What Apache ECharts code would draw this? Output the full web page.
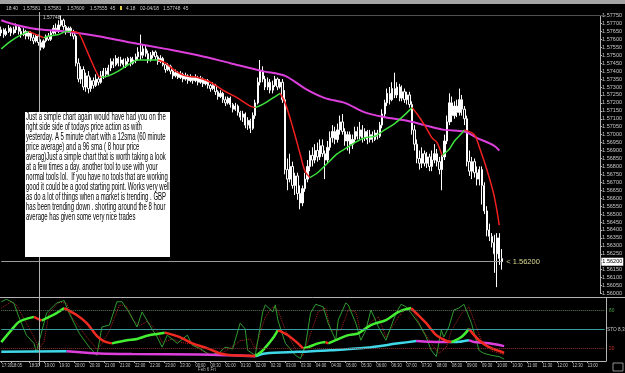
<!DOCTYPE html>
<html><head><meta charset="utf-8">
<script src="https://cdn.jsdelivr.net/npm/echarts@6/dist/echarts.min.js"></script>
<style>html,body{margin:0;padding:0;background:#000;overflow:hidden}#c{width:625px;height:373px}</style>
</head><body><div id="c"></div>
<script>
const SLOTS = 241;
const timeTicks = [[0,'17:30'],[4,'18:05'],[11,'18:30'],[17,'19:00'],[23,'19:30'],[29,'20:00'],[35,'20:30'],[41,'21:00'],[47,'21:30'],[53,'22:00'],[59,'22:30'],[65,'23:00'],[71,'23:30'],[77,'00:00'],[83,'00:30'],[89,'01:00'],[95,'01:30'],[101,'02:00'],[107,'02:30'],[113,'03:00'],[119,'03:30'],[125,'04:00'],[131,'04:30'],[137,'05:00'],[143,'05:30'],[149,'06:00'],[155,'06:30'],[161,'07:00'],[167,'07:30'],[173,'08:00'],[179,'08:30'],[185,'09:00'],[191,'09:30'],[197,'10:00'],[203,'10:30'],[209,'11:00'],[215,'11:30'],[221,'12:00'],[227,'12:30'],[233,'13:00']];

// [open, close, low, high]
const candles = [
[1.5764,1.5766,1.5762,1.5768],[1.5766,1.5763,1.5761,1.5767],[1.5763,1.5765,1.5762,1.5767],[1.5765,1.5767,1.5764,1.5769],
[1.5767,1.5764,1.5762,1.5768],[1.5764,1.5766,1.5763,1.5768],[1.5766,1.5768,1.5764,1.5770],[1.5768,1.5765,1.5763,1.5769],
[1.5765,1.5763,1.5761,1.5767],[1.5763,1.5765,1.5762,1.5767],[1.5765,1.5762,1.5760,1.5766],[1.5762,1.5764,1.5760,1.5765],
[1.5764,1.5761,1.5759,1.5765],[1.5761,1.5759,1.5757,1.5763],[1.5759,1.5762,1.5758,1.5763],[1.5762,1.5758,1.5756,1.5763],
[1.5758,1.5755,1.5753,1.5760],[1.5755,1.5759,1.5754,1.5760],[1.5759,1.5762,1.5758,1.5763],[1.5762,1.5760,1.5759,1.5764],
[1.5760,1.5764,1.5759,1.5766],[1.5764,1.5767,1.5763,1.5769],[1.5767,1.5765,1.5763,1.5770],[1.5765,1.5769,1.5764,1.5772],
[1.5769,1.5772,1.5768,1.5775],[1.5772,1.5768,1.5766,1.5773],[1.5768,1.5765,1.5763,1.5769],[1.5765,1.5767,1.5764,1.5768],
[1.5767,1.5764,1.5762,1.5768],[1.5764,1.5762,1.5760,1.5766],[1.5762,1.5745,1.5743,1.5763],[1.5745,1.5735,1.5733,1.5748],
[1.5735,1.5741,1.5732,1.5743],[1.5741,1.5730,1.5728,1.5743],[1.5730,1.5737,1.5727,1.5739],[1.5737,1.5729,1.5726,1.5740],
[1.5729,1.5734,1.5727,1.5736],[1.5734,1.5731,1.5729,1.5736],[1.5731,1.5735,1.5730,1.5738],[1.5735,1.5733,1.5731,1.5737],
[1.5733,1.5737,1.5732,1.5740],[1.5737,1.5740,1.5735,1.5742],[1.5740,1.5738,1.5736,1.5742],[1.5738,1.5742,1.5737,1.5744],
[1.5742,1.5746,1.5740,1.5748],[1.5746,1.5744,1.5742,1.5748],[1.5744,1.5748,1.5743,1.5750],[1.5748,1.5745,1.5743,1.5749],
[1.5745,1.5747,1.5743,1.5749],[1.5747,1.5744,1.5742,1.5748],[1.5744,1.5746,1.5742,1.5748],[1.5746,1.5748,1.5744,1.5749],
[1.5748,1.5745,1.5743,1.5749],[1.5745,1.5747,1.5744,1.5749],[1.5747,1.5749,1.5745,1.5751],[1.5749,1.5752,1.5747,1.5755],
[1.5752,1.5750,1.5747,1.5763],[1.5750,1.5754,1.5748,1.5757],[1.5754,1.5751,1.5749,1.5756],[1.5751,1.5747,1.5745,1.5753],
[1.5747,1.5750,1.5746,1.5752],[1.5750,1.5752,1.5748,1.5753],[1.5752,1.5749,1.5747,1.5753],[1.5749,1.5746,1.5744,1.5750],
[1.5746,1.5748,1.5745,1.5750],[1.5748,1.5744,1.5743,1.5749],[1.5744,1.5741,1.5739,1.5745],[1.5741,1.5743,1.5740,1.5745],
[1.5743,1.5740,1.5738,1.5744],[1.5740,1.5737,1.5735,1.5741],[1.5737,1.5739,1.5736,1.5741],[1.5739,1.5736,1.5735,1.5740],
[1.5736,1.5738,1.5735,1.5740],[1.5738,1.5735,1.5733,1.5739],[1.5735,1.5737,1.5734,1.5739],[1.5737,1.5734,1.5732,1.5738],
[1.5734,1.5736,1.5733,1.5738],[1.5736,1.5734,1.5732,1.5737],[1.5734,1.5736,1.5733,1.5738],[1.5736,1.5733,1.5731,1.5737],
[1.5733,1.5735,1.5732,1.5737],[1.5735,1.5732,1.5730,1.5736],[1.5732,1.5734,1.5731,1.5735],[1.5734,1.5731,1.5729,1.5735],
[1.5731,1.5729,1.5727,1.5732],[1.5729,1.5731,1.5728,1.5733],[1.5731,1.5727,1.5725,1.5732],[1.5727,1.5724,1.5722,1.5728],
[1.5724,1.5726,1.5723,1.5728],[1.5726,1.5722,1.5720,1.5727],[1.5722,1.5720,1.5718,1.5724],[1.5720,1.5723,1.5719,1.5724],
[1.5723,1.5719,1.5717,1.5724],[1.5719,1.5716,1.5714,1.5720],[1.5716,1.5718,1.5715,1.5720],[1.5718,1.5714,1.5712,1.5719],
[1.5714,1.5711,1.5709,1.5715],[1.5711,1.5713,1.5708,1.5715],[1.5713,1.5706,1.5704,1.5714],[1.5706,1.5709,1.5703,1.5711],
[1.5709,1.5704,1.5701,1.5710],[1.5704,1.5712,1.5703,1.5714],[1.5712,1.5720,1.5710,1.5722],[1.5720,1.5733,1.5719,1.5736],
[1.5733,1.5740,1.5731,1.5747],[1.5740,1.5735,1.5733,1.5743],[1.5735,1.5730,1.5728,1.5737],[1.5730,1.5733,1.5728,1.5736],
[1.5733,1.5728,1.5726,1.5735],[1.5728,1.5731,1.5726,1.5734],[1.5731,1.5735,1.5730,1.5737],[1.5735,1.5730,1.5728,1.5736],
[1.5730,1.5733,1.5729,1.5735],[1.5733,1.5722,1.5720,1.5735],[1.5722,1.5678,1.5675,1.5728],[1.5678,1.5672,1.5665,1.5685],
[1.5672,1.5680,1.5670,1.5688],[1.5680,1.5668,1.5666,1.5683],[1.5668,1.5674,1.5662,1.5676],[1.5674,1.5663,1.5659,1.5676],
[1.5663,1.5657,1.5653,1.5668],[1.5657,1.5666,1.5655,1.5668],[1.5666,1.5672,1.5664,1.5676],[1.5672,1.5680,1.5670,1.5684],
[1.5680,1.5687,1.5677,1.5690],[1.5687,1.5684,1.5680,1.5692],[1.5684,1.5690,1.5682,1.5694],[1.5690,1.5686,1.5683,1.5695],
[1.5686,1.5693,1.5684,1.5697],[1.5693,1.5688,1.5686,1.5697],[1.5688,1.5684,1.5672,1.5690],[1.5684,1.5692,1.5682,1.5696],
[1.5692,1.5698,1.5690,1.5702],[1.5698,1.5702,1.5695,1.5706],[1.5702,1.5697,1.5694,1.5705],[1.5697,1.5703,1.5695,1.5707],
[1.5703,1.5708,1.5700,1.5712],[1.5708,1.5702,1.5700,1.5713],[1.5702,1.5696,1.5693,1.5704],[1.5696,1.5700,1.5690,1.5702],
[1.5700,1.5694,1.5688,1.5702],[1.5694,1.5697,1.5691,1.5700],[1.5697,1.5702,1.5695,1.5705],[1.5702,1.5699,1.5697,1.5705],
[1.5699,1.5703,1.5697,1.5708],[1.5703,1.5698,1.5695,1.5706],[1.5698,1.5702,1.5696,1.5704],[1.5702,1.5697,1.5694,1.5703],
[1.5697,1.5700,1.5695,1.5703],[1.5700,1.5697,1.5695,1.5702],[1.5697,1.5701,1.5696,1.5703],[1.5701,1.5699,1.5697,1.5703],
[1.5699,1.5706,1.5698,1.5708],[1.5706,1.5713,1.5704,1.5716],[1.5713,1.5720,1.5711,1.5722],[1.5720,1.5726,1.5718,1.5729],
[1.5726,1.5722,1.5719,1.5730],[1.5722,1.5729,1.5721,1.5733],[1.5729,1.5725,1.5723,1.5739],[1.5725,1.5730,1.5723,1.5733],
[1.5730,1.5723,1.5721,1.5732],[1.5723,1.5727,1.5721,1.5731],[1.5727,1.5722,1.5720,1.5729],[1.5722,1.5725,1.5719,1.5727],
[1.5725,1.5719,1.5717,1.5727],[1.5719,1.5703,1.5700,1.5721],[1.5703,1.5694,1.5690,1.5706],[1.5694,1.5685,1.5682,1.5697],
[1.5685,1.5682,1.5678,1.5690],[1.5682,1.5688,1.5679,1.5692],[1.5688,1.5682,1.5680,1.5690],[1.5682,1.5686,1.5679,1.5689],
[1.5686,1.5680,1.5677,1.5688],[1.5680,1.5684,1.5677,1.5690],[1.5684,1.5688,1.5682,1.5694],[1.5688,1.5683,1.5680,1.5691],
[1.5683,1.5678,1.5675,1.5686],[1.5678,1.5686,1.5665,1.5688],[1.5686,1.5696,1.5684,1.5700],[1.5696,1.5708,1.5694,1.5712],
[1.5708,1.5720,1.5706,1.5726],[1.5720,1.5712,1.5708,1.5724],[1.5712,1.5718,1.5710,1.5721],[1.5718,1.5714,1.5711,1.5722],
[1.5714,1.5722,1.5712,1.5729],[1.5722,1.5716,1.5712,1.5725],[1.5716,1.5710,1.5706,1.5718],[1.5710,1.5683,1.5680,1.5712],
[1.5683,1.5677,1.5674,1.5690],[1.5677,1.5683,1.5672,1.5686],[1.5683,1.5676,1.5673,1.5685],[1.5676,1.5672,1.5668,1.5680],
[1.5672,1.5678,1.5668,1.5680],[1.5678,1.5668,1.5656,1.5680],[1.5668,1.5652,1.5650,1.5670],[1.5652,1.5640,1.5636,1.5655],
[1.5640,1.5636,1.5633,1.5644],[1.5636,1.5632,1.5629,1.5638],[1.5632,1.5625,1.5613,1.5637],[1.5625,1.5635,1.5604,1.5638],
[1.5635,1.5622,1.5618,1.5638],[1.5622,1.5620,1.5615,1.5628]
];

const ma12 = [[0,1.5754],[4,1.5759],[7,1.5762],[11,1.5765],[17,1.5761],[19,1.5762],[23,1.5763],[26,1.5765],[28,1.5765],[31,1.5764],[33,1.5758],[36,1.5747],[39,1.5737],[40,1.5736],[43,1.5737],[47,1.5740],[51,1.5744],[55,1.5747],[58,1.5747],[63,1.5747],[66,1.5745],[70,1.5740],[74,1.5737],[79,1.5736],[84,1.5733],[89,1.5728],[95,1.5723],[100,1.5718],[102,1.5717],[105,1.5719],[109,1.5723],[112,1.5726],[114,1.5720],[117,1.5705],[120,1.5688],[122,1.5677],[124,1.5673],[127,1.5676],[131,1.5682],[135,1.5688],[139,1.5692],[142,1.5695],[146,1.5698],[150,1.5699],[154,1.5703],[158,1.5707],[161,1.5711],[165,1.5717],[167,1.5713],[170,1.5706],[173,1.5698],[175,1.5695],[177,1.5687],[180,1.5691],[182,1.5696],[185,1.5701],[186,1.5703],[190,1.5700],[192,1.5692],[195,1.5678],[198,1.5661],[200,1.5643]];
const ma96 = [[0,1.5772],[6,1.5769],[12,1.5767],[17,1.5766],[26,1.5765],[39,1.5762],[52,1.5758],[66,1.5754],[79,1.5750],[92,1.5745],[105,1.5740],[114,1.5737],[122,1.5729],[130,1.5723],[138,1.5720],[146,1.5714],[154,1.5711],[162,1.5709],[170,1.5706],[178,1.5703],[186,1.5702],[191,1.5698],[198,1.5693],[200,1.5690]];

const stoMain = [[0,30],[4,49],[7,62],[11,68],[13,70],[16,64],[18,68],[22,76],[25,84],[30,73],[34,60],[38,40],[41,31],[44,28],[50,33],[54,35],[58,40],[62,43],[65,45],[71,38],[76,28],[82,20],[87,12],[92,9],[97,8.5],[101,8],[104,17],[108,36],[110,49],[114,41],[118,28],[120,20],[122,22],[126,28],[129,30],[130,28],[133,33],[138,41],[142,44],[147,57],[153,65],[158,78],[163,84],[169,60],[173,41],[177,32],[179,30],[183,38],[186,51],[190,33],[194,22],[198,16],[200,13]];
const stoSig = [[0,14.5],[26,15.6],[39,12],[52,11],[79,10.5],[92,9],[101,7.6],[105,12],[118,14.5],[131,17],[145,21],[158,28],[165,31.6],[170,30.5],[178,30],[182,30.5],[186,33],[188,30],[194,28],[200,23.6]];
const stoK = [[0,94],[2,98],[5,92],[7,70],[10,41],[13,28],[14,14],[15,30],[18,76],[22,92],[25,96],[27,76],[31,44],[35,22],[38,9],[39,30],[40,54],[43,57],[46,94],[48,94],[51,76],[54,54],[56,78],[59,57],[62,38],[64,22],[66,41],[70,28],[74,41],[76,25],[79,20],[83,9],[87,14],[89,22],[92,19],[95,60],[97,51],[98,17],[101,9],[104,78],[105,89],[108,78],[109,89],[110,65],[113,28],[117,9],[119,4],[121,25],[123,76],[125,90],[128,86],[130,60],[133,33],[134,65],[137,92],[138,89],[141,60],[143,33],[145,49],[147,81],[150,54],[153,33],[157,76],[159,90],[161,86],[163,76],[166,60],[169,38],[171,17],[173,7],[175,49],[176,38],[178,54],[180,81],[182,84],[184,90],[187,60],[190,17],[192,12],[195,9],[198,7],[200,3]];
const stoD = [[0,84],[4,94],[6,89],[10,60],[13,38],[15,19],[17,30],[19,76],[23,93],[26,92],[28,70],[34,38],[38,19],[40,27],[43,48],[47,89],[50,86],[52,67],[55,56],[58,63],[62,48],[64,29],[68,35],[72,29],[76,27],[80,16],[84,10],[89,15],[95,32],[99,35],[101,19],[105,70],[108,86],[110,81],[113,49],[117,19],[120,8],[123,43],[126,78],[129,84],[131,49],[135,49],[138,81],[141,78],[143,44],[147,62],[150,70],[153,38],[158,70],[161,84],[164,78],[167,54],[171,28],[174,12],[177,22],[179,48],[183,75],[186,86],[188,64],[191,32],[195,16],[200,10]];
const stoLevels = [80, 50, 20];

const noteLines = [
'Just a simple chart again would have had you on the',
'right side side of todays price action as with',
'yesterday. A 5 minute chart with a 12sma (60 minute',
'price average) and a 96 sma ( 8 hour price',
'averag)Just a simple chart that is worth taking a look',
'at a few times a day. another tool to use with your',
'normal tools lol.  If you have no tools that are working',
'good it could be a good starting point. Works very well',
'as do a lot of things when a market is trending . GBP',
'has been trending down . shorting around the 8 hour',
'average has given some very nice trades'
];
const infoItems = [[6,'18:40'],[23,'1.57581'],[44,'1.57581'],[67,'1.57600'],[90,'1.57555'],[110,'45'],[126,'4.18'],[140,'02-04/18'],[163,'1.57748'],[183,'45']];
const bidPrice = 1.562;

function splitDir(pts, wantUp) {
  const out = []; let open = false; let lastUp = true;
  for (let i = 0; i < pts.length - 1; i++) {
    const d = pts[i+1][1] - pts[i][1];
    const up = d > 0 ? true : (d < 0 ? false : lastUp);
    lastUp = up;
    if (up === wantUp) {
      if (!open) { if (out.length) out.push([pts[i][0], '-']); out.push(pts[i]); open = true; }
      out.push(pts[i+1]);
    } else open = false;
  }
  return out;
}

const chart = echarts.init(document.getElementById('c'));
const cats = Array.from({length: SLOTS}, (_, i) => String(i));
const tickMap = new Map(timeTicks);
const FONT = 'Liberation Sans';
const lineBase = {type:'line', symbol:'none', showSymbol:false, connectNulls:false, silent:true};
const small = (t, x, y, fill, size, sx) => ({type:'text', x:x, y:y, z:60, scaleX:sx || 1,
  style:{text:t, fill:fill, font:(size || 6) + 'px "Liberation Sans"', verticalAlign:'top'}});

const graphics = [
  {type:'rect', shape:{x:0, y:0, width:625, height:4}, style:{fill:'#a4a4a4'}, z:50},
  {type:'line', shape:{x1:0, y1:15.5, x2:606, y2:15.5}, style:{stroke:'#505050', lineWidth:1}, z:1},
  {type:'line', shape:{x1:39.5, y1:12, x2:39.5, y2:366}, style:{stroke:'#b0b0b0', lineWidth:1}, z:60},
  {type:'line', shape:{x1:0, y1:297.5, x2:625, y2:297.5}, style:{stroke:'#b4b4b4', lineWidth:1}, z:60},
  {type:'rect', shape:{x:120, y:6, width:2, height:4}, style:{fill:'#e0d040'}, z:60},
  small('1.57748', 43, 14.5, '#d0d0d0', 6, 0.8),
  small('Feb 6 Fri', 198, 366.5, '#b0b0b0', 5.5, 0.8),
  small(String(stoLevels[0]), 609, 307.5, '#4c9a4c', 6, 0.8),
  small('STO 8,3,3', 607, 326.5, '#c8c8c8', 6, 0.8),
  small(String(stoLevels[2]), 609, 345.5, '#c03030', 6, 0.8),
  {type:'rect', shape:{x:613, y:363, width:10, height:8}, style:{fill:'none', stroke:'#909090', lineWidth:1}, z:60},
  {type:'rect', shape:{x:25, y:112, width:145, height:145}, style:{fill:'#ffffff'}, z:100}
].concat(noteLines.map((t, i) => ({type:'text', x:26, y:112.5 + i*9.95, z:101, scaleX:0.6,
    style:{text:t, fill:'#000', font:'10px "Liberation Sans"', verticalAlign:'top'}})))
 .concat(infoItems.map(([x, t]) => small(t, x, 5.5, '#c8c8c8', 6, 0.8)));

const option = {
  backgroundColor: '#000',
  animation: false,
  grid: [
    {left:0, right:19, top:15.5, height:278},
    {left:0, right:19, top:298, height:63}
  ],
  xAxis: [
    {type:'category', gridIndex:0, data:cats, axisLine:{show:false}, axisTick:{show:false}, axisLabel:{show:false}, splitLine:{show:false}},
    {type:'category', gridIndex:1, data:cats, axisLine:{lineStyle:{color:'#b4b4b4'}},
     axisTick:{show:true, alignWithLabel:true, interval:(i)=>tickMap.has(i), length:2, lineStyle:{color:'#b4b4b4'}},
     axisLabel:{show:false}, splitLine:{show:false}}
  ],
  yAxis: [
    {type:'value', gridIndex:0, position:'right', min:1.56, max:1.5775, interval:0.0005,
     axisLine:{show:true, lineStyle:{color:'#b4b4b4'}}, axisTick:{show:true, length:2, lineStyle:{color:'#b4b4b4'}},
     axisLabel:{color:'#c8c8c8', fontSize:5.5, fontFamily:FONT, margin:2, formatter:v=>v.toFixed(5)}, splitLine:{show:false}},
    {type:'value', gridIndex:1, position:'right', min:0, max:100,
     axisLine:{show:true, lineStyle:{color:'#b4b4b4'}}, axisTick:{show:false}, axisLabel:{show:false}, splitLine:{show:false}}
  ],
  series: [
    {type:'candlestick', xAxisIndex:0, yAxisIndex:0, data:candles, barWidth:1.8, silent:true,
     itemStyle:{color:'#ffffff', color0:'#000000', borderColor:'#ffffff', borderColor0:'#ffffff', borderWidth:1},
     markPoint:{silent:true, symbol:'circle', symbolSize:0,
       label:{show:true, position:'right', distance:2, formatter:'< ' + bidPrice.toFixed(5), color:'#d8d890', fontSize:7.5, fontFamily:FONT},
       data:[{coord:[candles.length, bidPrice]}]}
    },
    Object.assign({}, lineBase, {xAxisIndex:0, yAxisIndex:0, data:ma96, smooth:0.3, lineStyle:{color:'#dd3fdd', width:2},
     markLine:{silent:true, symbol:'none', animation:false,
       lineStyle:{color:'#9a9a9a', width:1, type:'solid'}, label:{show:false},
       data:[[{coord:[0, bidPrice]}, {coord:[candles.length - 1, bidPrice]}]]},
     markPoint:{silent:true, symbol:'circle', symbolSize:0,
       label:{show:true, position:'right', distance:2.5, formatter:bidPrice.toFixed(5), backgroundColor:'#fff', color:'#000', fontSize:5.5, fontFamily:FONT, padding:[1,1]},
       data:[{coord:[SLOTS - 1, bidPrice]}]}}),
    Object.assign({}, lineBase, {xAxisIndex:0, yAxisIndex:0, data:splitDir(ma12, true), smooth:0.3, lineStyle:{color:'#3ee03e', width:1.5}}),
    Object.assign({}, lineBase, {xAxisIndex:0, yAxisIndex:0, data:splitDir(ma12, false), smooth:0.3, lineStyle:{color:'#f02020', width:1.5}}),
    Object.assign({}, lineBase, {xAxisIndex:1, yAxisIndex:1, data:stoD, lineStyle:{color:'#b02020', width:1, type:'dotted'},
      markLine:{silent:true, symbol:'none', label:{show:false},
        data:[
          [{coord:[0, stoLevels[0]], lineStyle:{color:'#5a7a5a', width:1, type:'dotted'}}, {coord:[SLOTS - 1, stoLevels[0]]}],
          [{coord:[0, stoLevels[1]], lineStyle:{color:'#3a9a9a', width:1, type:'solid'}}, {coord:[SLOTS - 1, stoLevels[1]]}],
          [{coord:[0, stoLevels[2]], lineStyle:{color:'#8a3030', width:1, type:'dotted'}}, {coord:[SLOTS - 1, stoLevels[2]]}]
        ]}}),
    Object.assign({}, lineBase, {xAxisIndex:1, yAxisIndex:1, data:stoK, lineStyle:{color:'#2f9a2f', width:1}}),
    Object.assign({}, lineBase, {xAxisIndex:1, yAxisIndex:1, data:splitDir(stoSig, true), smooth:0.3, lineStyle:{color:'#3fd8e8', width:2.5}}),
    Object.assign({}, lineBase, {xAxisIndex:1, yAxisIndex:1, data:splitDir(stoSig, false), smooth:0.3, lineStyle:{color:'#dd3fdd', width:2.5}}),
    Object.assign({}, lineBase, {xAxisIndex:1, yAxisIndex:1, data:splitDir(stoMain, true), smooth:0.3, lineStyle:{color:'#44ee33', width:2.5}}),
    Object.assign({}, lineBase, {xAxisIndex:1, yAxisIndex:1, data:splitDir(stoMain, false), smooth:0.3, lineStyle:{color:'#f02a20', width:2.5}})
  ],
  graphic: graphics
};
chart.setOption(option);

// time labels placed through the bottom category axis
const timeLabelGraphics = timeTicks.map(([idx, t]) => {
  const x = chart.convertToPixel({xAxisIndex:1}, idx);
  return small(t, x + 0.5, 362.5, '#c8c8c8', 6, 0.68);
});
chart.setOption({graphic: graphics.concat(timeLabelGraphics)});
</script>
</body></html>
